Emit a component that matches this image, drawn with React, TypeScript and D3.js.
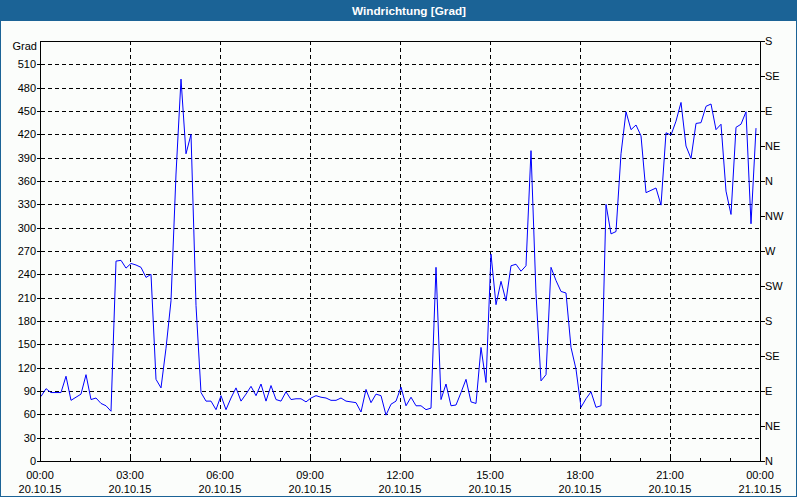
import React from "react";
import * as d3 from "d3";

const TITLE = "Windrichtung [Grad]";
const Y_UNIT = "Grad";
const Y_TICKS = [0, 30, 60, 90, 120, 150, 180, 210, 240, 270, 300, 330, 360, 390, 420, 450, 480, 510];
const DIR_TICKS = [0, 45, 90, 135, 180, 225, 270, 315, 360, 405, 450, 495, 540];
const DIR_LABELS = ["N", "NE", "E", "SE", "S", "SW", "W", "NW", "N", "NE", "E", "SE", "S"];
const X_TICK_HOURS = [0, 3, 6, 9, 12, 15, 18, 21, 24];
const X_TIME_LABELS = ["00:00", "03:00", "06:00", "09:00", "12:00", "15:00", "18:00", "21:00", "00:00"];
const X_DATE_LABELS = ["20.10.15", "20.10.15", "20.10.15", "20.10.15", "20.10.15", "20.10.15", "20.10.15", "20.10.15", "21.10.15"];
const STEP_MINUTES = 10;

// wind direction, one value every 10 minutes from 00:00
const WIND_DIR = [
  83, 93, 88, 88, 88, 109, 78, 82, 86, 111, 79, 81, 74, 71, 64, 257,
  258, 248, 254, 252, 249, 236, 240, 105, 94, 145, 206, 369, 491, 395, 420, 200,
  88, 77, 77, 66, 84, 66, 81, 94, 77, 86, 96, 84, 99, 77, 97, 79,
  77, 89, 79, 80, 80, 76, 81, 84, 82, 81, 78, 78, 81, 77, 76, 75,
  63, 92, 75, 86, 84, 59, 73, 77, 95, 71, 82, 71, 71, 66, 68, 249,
  79, 99, 71, 72, 88, 105, 76, 74, 146, 101, 266, 201, 231, 206, 251, 253,
  244, 251, 399, 215, 103, 111, 249, 232, 218, 216, 146, 118, 69, 80, 89, 69,
  71, 330, 292, 295, 395, 449, 426, 432, 418, 345, 348, 351, 329, 422, 419, 437,
  461, 405, 389, 434, 435, 456, 459, 426, 433, 347, 317, 429, 433, 449, 305, 428,
];

const W = 800;
const H = 500;
const L = 41, R = 761, T = 41, B = 461;
const FONT = "'Liberation Sans', Arial, sans-serif";
const FRAME = "#1b6396";
const BG = "#fbfdfb";

export default function App() {
  const x = d3.scaleLinear().domain([0, 24]).range([L, R]);
  const y = d3.scaleLinear().domain([0, 540]).range([B, T]);
  const pts = WIND_DIR.map((v, i) => [(i * STEP_MINUTES) / 60, v] as [number, number]);
  const line = d3.line<[number, number]>().x((d) => x(d[0])).y((d) => y(d[1]));
  const hours = d3.range(0, 25);

  return (
    <svg width={W} height={H} style={{ position: "absolute", left: 0, top: 0 }} fontFamily={FONT}>
      <rect x={0} y={0} width={W} height={H} fill="#ffffff" />
      <rect x={0.5} y={0.5} width={796} height={496} fill={BG} stroke={FRAME} strokeWidth={1} />
      <rect x={0} y={0} width={797} height={21} fill={FRAME} />
      <text x={409} y={15} textAnchor="middle" fill="#ffffff" fontSize={11} fontWeight="bold"
        textLength={114} lengthAdjust="spacingAndGlyphs">{TITLE}</text>

      {/* horizontal grid */}
      <g shapeRendering="crispEdges">
        {Y_TICKS.filter((t) => t > 0).map((t) => (
          <line key={"hg" + t} x1={L} x2={R} y1={Math.round(y(t)) + 0.5} y2={Math.round(y(t)) + 0.5}
            stroke="#000" strokeDasharray="4,3" />
        ))}
        {X_TICK_HOURS.filter((h) => h > 0 && h < 24).map((h) => (
          <line key={"vg" + h} y1={T} y2={B} x1={Math.round(x(h)) - 0.5} x2={Math.round(x(h)) - 0.5}
            stroke="#000" strokeDasharray="4,3" />
        ))}
      </g>

      {/* data */}
      <path d={line(pts) || ""} fill="none" stroke="#0000ff" strokeWidth={1} />

      {/* axes box */}
      <g shapeRendering="crispEdges" stroke="#000">
        <line x1={L - 0.5} x2={L - 0.5} y1={T} y2={B + 1} />
        <line x1={R - 0.5} x2={R - 0.5} y1={T} y2={B + 1} />
        <line x1={L} x2={R} y1={T + 0.5} y2={T + 0.5} />
        <line x1={L - 1} x2={R} y1={B + 0.5} y2={B + 0.5} />
        {Y_TICKS.map((t) => (
          <line key={"lt" + t} x1={L - 4} x2={L} y1={Math.round(y(t)) + 0.5} y2={Math.round(y(t)) + 0.5} />
        ))}
        {DIR_TICKS.map((t) => (
          <line key={"rt" + t} x1={R} x2={R + 4} y1={Math.round(y(t)) + 0.5} y2={Math.round(y(t)) + 0.5} />
        ))}
        {hours.map((h) => (
          <line key={"xt" + h} x1={Math.round(x(h)) - 0.5} x2={Math.round(x(h)) - 0.5} y1={B - 3} y2={B} />
        ))}
      </g>

      {/* labels */}
      <g fontSize={11} fill="#000">
        <text x={37} y={T + 9} textAnchor="end">{Y_UNIT}</text>
        {Y_TICKS.map((t) => (
          <text key={"yl" + t} x={36} y={y(t) + 4} textAnchor="end">{t}</text>
        ))}
        {DIR_TICKS.map((t, i) => (
          <text key={"dl" + t} x={R + 4} y={y(t) + 4}>{DIR_LABELS[i]}</text>
        ))}
        {X_TICK_HOURS.map((h, i) => (
          <g key={"xl" + h}>
            <text x={x(h) - 1} y={479} textAnchor="middle">{X_TIME_LABELS[i]}</text>
            <text x={x(h) - 1} y={493} textAnchor="middle">{X_DATE_LABELS[i]}</text>
          </g>
        ))}
      </g>
    </svg>
  );
}
